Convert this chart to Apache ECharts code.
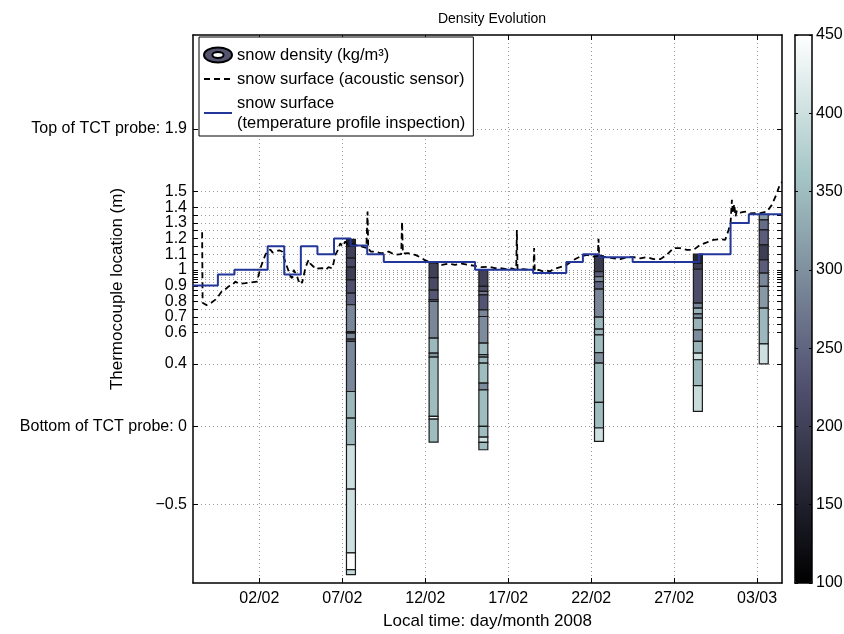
<!DOCTYPE html>
<html>
<head>
<meta charset="utf-8">
<script src="https://cdn.jsdelivr.net/npm/echarts@6/dist/echarts.min.js"></script>
<style>
html, body { margin: 0; padding: 0; background: #fff; }
#main { width: 844px; height: 634px; }
</style>
</head>
<body>
<div id="main"></div>
<script>
// x values are day numbers counted in February 2008 (2 = 02/02, 32 = 03/03)
var dateTicks = [2, 7, 12, 17, 22, 27, 32];
var heightLabels = [1.9, 1.5, 1.4, 1.3, 1.2, 1.1, 1, 0.9, 0.8, 0.7, 0.6, 0.4, 0, -0.5];
// thermocouple heights (ticks + dotted grid)
var thermocouples = [1.9, 1.5, 1.4, 1.35, 1.3, 1.25, 1.2, 1.15, 1.1, 1.05, 1.0, 0.985, 0.97, 0.955,
    0.94, 0.92, 0.895, 0.87, 0.835, 0.8, 0.75, 0.7, 0.65, 0.6, 0.4, 0, -0.5];

// snow surface from temperature profile inspection (step line)
var inspectDays = [-2, -0.5, 0.5, 2.5, 3.5, 4.5, 5.5, 6.5, 7.5, 8.5, 9.5, 15, 18.5, 20.5, 21.5, 22.5, 24.5, 28.5, 30.4, 31.5, 33.5];
var inspectHeights = [0.9, 0.97, 1.0, 1.15, 0.97, 1.15, 1.1, 1.2, 1.155, 1.1, 1.05, 1.0, 0.98, 1.05, 1.1, 1.08, 1.05, 1.1, 1.3, 1.355, 1.355];

// snow surface from acoustic sensor
var sonicDays = [-1.45, -1.42, -1.2, -0.9, -0.65, -0.45, -0.25, 0.0, 0.15, 0.35, 0.55, 0.8, 1.16, 1.5, 1.86,
    2.06, 2.2, 2.36, 2.5, 2.66, 2.8, 2.96, 3.2, 3.37, 3.5, 3.6, 3.7, 3.8, 3.87, 3.97, 4.07, 4.17, 4.27, 4.37,
    4.47, 4.57, 4.67, 4.77, 4.87, 4.97, 5.07, 5.17, 5.27, 5.37, 5.6, 5.78, 6.0, 6.17, 6.4, 6.58, 6.7, 6.88,
    7.0, 7.18, 7.3, 7.48, 7.6, 7.78, 8.0, 8.19, 8.45, 8.52, 8.56, 8.7, 8.99, 9.2, 9.39, 9.6, 9.79, 10.0,
    10.19, 10.55, 10.6, 10.65, 10.99, 11.2, 11.4, 11.6, 11.8, 12.0, 12.2, 12.6, 13.0, 13.4, 13.8, 14.2,
    14.6, 15.0, 15.4, 15.8, 16.2, 16.5, 16.9, 17.2, 17.48, 17.52, 17.56, 17.9, 18.3, 18.52, 18.56, 18.6,
    18.83, 19.1, 19.33, 19.5, 19.73, 20.13, 20.53, 20.94, 21.34, 21.74, 22.14, 22.4, 22.44, 22.48, 22.74,
    23.05, 23.35, 23.75, 24.15, 24.55, 24.95, 25.35, 25.76, 26.16, 26.56, 26.96, 27.36, 27.77, 28.17,
    28.57, 28.97, 29.37, 29.78, 30.08, 30.28, 30.4, 30.48, 30.55, 30.62, 30.7, 30.78, 30.98, 31.2, 31.38,
    31.6, 31.79, 32.19, 32.59, 32.89, 33.19, 33.39, 33.5];
var sonicHeights = [1.24, 0.79, 0.775, 0.79, 0.81, 0.835, 0.865, 0.88, 0.895, 0.9, 0.925, 0.91, 0.915, 0.92, 0.925,
    1.01, 1.05, 1.096, 1.12, 1.13, 1.11, 1.117, 1.125, 1.117, 1.07, 1.064, 1.01, 1.011, 0.96, 0.947, 1.0, 1.011, 0.96, 0.926,
    0.94, 0.915, 0.96, 1.011, 1.04, 1.064, 1.04, 1.043, 1.02, 1.004, 1.01, 1.011, 1.0, 1.017, 1.01, 1.096, 1.12, 1.17,
    1.15, 1.181, 1.165, 1.17, 1.16, 1.159, 1.15, 1.149, 1.14, 1.372, 1.14, 1.117, 1.117, 1.11, 1.106, 1.11, 1.117, 1.105,
    1.096, 1.1, 1.308, 1.105, 1.106, 1.1, 1.096, 1.085, 1.074, 1.06, 1.053, 1.05, 1.032, 1.04, 1.032, 1.04,
    1.032, 1.025, 1.017, 1.02, 1.011, 1.011, 1.004, 1.01, 1.0, 1.255, 1.0, 1.004, 1.0, 1.0, 1.139, 0.99,
    1.0, 0.99, 0.996, 0.99, 1.004, 1.017, 1.032, 1.064, 1.085, 1.096, 1.085, 1.09, 1.198, 1.09, 1.085,
    1.08, 1.074, 1.068, 1.081, 1.081, 1.074, 1.081, 1.068, 1.068, 1.096, 1.139, 1.139, 1.128, 1.128,
    1.16, 1.175, 1.192, 1.196, 1.192, 1.255, 1.3, 1.447, 1.36, 1.42, 1.34, 1.38, 1.366, 1.37, 1.372,
    1.36, 1.362, 1.362, 1.372, 1.415, 1.489, 1.553, 1.56];

// snow pits: day, layer boundaries (top -> bottom, m) and layer densities (kg/m3)
var pitDays = [7.52, 12.5, 15.5, 22.47, 28.43, 32.4];
var pitBounds = [
    [1.195, 1.15, 1.075, 1.017, 0.936, 0.851, 0.777, 0.606, 0.596, 0.558, 0.543, 0.223, 0.053, -0.117, -0.40, -0.808, -0.915, -0.947],
    [1.043, 0.95, 0.87, 0.81, 0.798, 0.564, 0.468, 0.443, 0.064, 0.047, -0.1],
    [1.0, 0.894, 0.862, 0.84, 0.745, 0.702, 0.532, 0.458, 0.443, 0.404, 0.277, 0.234, 0.0, -0.068, -0.102, -0.149],
    [1.09, 0.989, 0.957, 0.925, 0.877, 0.698, 0.622, 0.585, 0.472, 0.404, 0.153, -0.01, -0.095],
    [1.10, 1.042, 1.004, 0.787, 0.755, 0.719, 0.692, 0.617, 0.543, 0.468, 0.426, 0.26, 0.096],
    [1.355, 1.319, 1.255, 1.16, 1.064, 0.979, 0.894, 0.755, 0.527, 0.4]
];
var pitDensity = [
    [150, 200, 215, 195, 225, 245, 290, 200, 290, 250, 290, 345, 345, 400, 400, 445, 390],
    [200, 215, 235, 230, 290, 345, 305, 350, 440, 350],
    [200, 220, 270, 230, 290, 295, 345, 320, 345, 350, 295, 350, 350, 405, 350],
    [190, 240, 290, 250, 290, 345, 340, 350, 300, 350, 350, 400],
    [160, 195, 220, 290, 340, 300, 340, 295, 340, 400, 345, 395],
    [310, 260, 240, 195, 240, 290, 310, 345, 400]
];

var boneColors = ['#000000', '#1c1c27', '#38384d', '#545474', '#707a8f', '#8ba1ab', '#a7c7c7', '#d3e3e3', '#ffffff'];

var layers = [];
pitDays.forEach(function (day, i) {
    pitDensity[i].forEach(function (rho, j) {
        layers.push([day, pitBounds[i][j + 1], pitBounds[i][j], rho]);
    });
});
var inspectData = inspectDays.map(function (d, i) { return [d, inspectHeights[i]]; });
var sonicData = sonicDays.map(function (d, i) { return [d, sonicHeights[i]]; });

var font = 'Liberation Sans, Arial, Helvetica, sans-serif';
var densName = 'snow density (kg/m\u00b3)';
var sonicName = 'snow surface (acoustic sensor)';
var inspectName = 'snow surface\n(temperature profile inspection)';
var frame = { onZero: false, lineStyle: { color: '#000', width: 1.5 } };

function dayLabel(v) {
    var d = Math.round(v), m = '02';
    if (d > 29) { d -= 29; m = '03'; }
    return (d < 10 ? '0' : '') + d + '/' + m;
}
function heightLabel(v) {
    v = +v.toFixed(3);
    if (v === 1.9) return 'Top of TCT probe: 1.9';
    if (v === 0) return 'Bottom of TCT probe: 0';
    if (v < 0) return '\u2212' + (-v);
    return String(v);
}
function renderLayer(params, api) {
    var day = api.value(0);
    var a = api.coord([day - 0.27, api.value(2)]);
    var b = api.coord([day + 0.27, api.value(1)]);
    return {
        type: 'rect',
        shape: { x: a[0], y: a[1], width: b[0] - a[0], height: b[1] - a[1] },
        style: { fill: api.visual('color'), stroke: '#1a1a1a', lineWidth: 1.2 }
    };
}

var myChart = echarts.init(document.getElementById('main'));
var option = {
    animation: false,
    backgroundColor: '#fff',
    textStyle: { fontFamily: font, color: '#000' },
    title: {
        text: 'Density Evolution',
        left: 487,
        top: 7,
        textAlign: 'center',
        textStyle: { fontFamily: font, fontSize: 14, fontWeight: 'normal', color: '#000' }
    },
    grid: [
        { left: 193, top: 35, width: 589, height: 548, outerBoundsMode: 'none' },
        { left: 795, top: 35, width: 17, height: 548, outerBoundsMode: 'none' }
    ],
    legend: {
        orient: 'vertical',
        left: 199,
        top: 37,
        padding: [8, 8, 3, 4],
        itemGap: 4,
        itemWidth: 28,
        itemHeight: 16,
        backgroundColor: '#fff',
        borderColor: '#000',
        borderWidth: 1,
        textStyle: { fontFamily: font, fontSize: 16.5, lineHeight: 20, color: '#000' },
        data: [
            {
                name: densName,
                icon: 'path://M0,8A15,8,0,1,0,30,8A15,8,0,1,0,0,8ZM9,8A6,3.2,0,1,1,21,8A6,3.2,0,1,1,9,8Z',
                itemStyle: { color: '#55556f', borderColor: '#000', borderWidth: 2 }
            },
            { name: sonicName, itemStyle: { opacity: 0 } },
            { name: inspectName, itemStyle: { opacity: 0 } }
        ]
    },
    visualMap: {
        type: 'continuous',
        seriesIndex: 0,
        dimension: 3,
        min: 100,
        max: 450,
        left: 795,
        top: 35,
        padding: 0,
        itemWidth: 17,
        itemHeight: 548,
        calculable: false,
        hoverLink: false,
        inRange: { color: boneColors }
    },
    xAxis: [
        {
            type: 'value', gridIndex: 0, position: 'bottom', min: -2, max: 33.5,
            name: 'Local time: day/month 2008', nameLocation: 'middle', nameGap: 30, nameMoveOverlap: false,
            nameTextStyle: { fontFamily: font, fontSize: 17, color: '#000' },
            axisLine: frame,
            axisTick: { inside: true, length: 5, customValues: dateTicks, lineStyle: { color: '#000' } },
            axisLabel: { customValues: dateTicks, formatter: dayLabel, margin: 8, fontFamily: font, fontSize: 16, color: '#000' },
            splitLine: { show: true, lineStyle: { color: '#9a9a9a', type: [1, 3], width: 1 } }
        },
        {
            type: 'value', gridIndex: 0, position: 'top', min: -2, max: 33.5,
            axisLine: frame,
            axisTick: { inside: true, length: 5, customValues: dateTicks, lineStyle: { color: '#000' } },
            axisLabel: { show: false },
            splitLine: { show: false }
        },
        {
            type: 'value', gridIndex: 1, position: 'bottom', min: 0, max: 1, z: 10,
            axisLine: frame,
            axisTick: { show: false }, axisLabel: { show: false }, splitLine: { show: false }
        },
        {
            type: 'value', gridIndex: 1, position: 'top', min: 0, max: 1, z: 10,
            axisLine: frame,
            axisTick: { show: false }, axisLabel: { show: false }, splitLine: { show: false }
        }
    ],
    yAxis: [
        {
            type: 'value', gridIndex: 0, position: 'left', min: -1, max: 2.5,
            name: 'Thermocouple location (m)', nameLocation: 'middle', nameGap: 67, nameMoveOverlap: false,
            nameTextStyle: { fontFamily: font, fontSize: 17, color: '#000', padding: [0, 0, 0, 40] },
            axisLine: frame,
            axisTick: { inside: true, length: 5, customValues: thermocouples, lineStyle: { color: '#000' } },
            axisLabel: { customValues: heightLabels, formatter: heightLabel, margin: 6, fontFamily: font, fontSize: 16, color: '#000' },
            splitLine: { show: true, lineStyle: { color: '#9a9a9a', type: [1, 3], width: 1 } }
        },
        {
            type: 'value', gridIndex: 0, position: 'right', min: -1, max: 2.5,
            axisLine: frame,
            axisTick: { inside: true, length: 5, customValues: thermocouples, lineStyle: { color: '#000' } },
            axisLabel: { show: false },
            splitLine: { show: false }
        },
        {
            type: 'value', gridIndex: 1, position: 'right', min: 100, max: 450, interval: 50, z: 10,
            axisLine: frame,
            axisTick: { inside: true, length: 3, lineStyle: { color: '#000' } },
            axisLabel: { margin: 4, fontFamily: font, fontSize: 16, color: '#000' },
            splitLine: { show: false }
        },
        {
            type: 'value', gridIndex: 1, position: 'left', min: 100, max: 450, interval: 50, z: 10,
            axisLine: frame,
            axisTick: { inside: true, length: 3, lineStyle: { color: '#000' } },
            axisLabel: { show: false },
            splitLine: { show: false }
        }
    ],
    series: [
        {
            name: densName,
            type: 'custom',
            xAxisIndex: 0,
            yAxisIndex: 0,
            renderItem: renderLayer,
            dimensions: ['day', 'bottom', 'top', 'density'],
            encode: { x: 0, y: [1, 2] },
            data: layers,
            z: 1
        },
        {
            name: sonicName,
            type: 'line',
            xAxisIndex: 0,
            yAxisIndex: 0,
            data: sonicData,
            symbol: 'none',
            lineStyle: { color: '#000', width: 1.8, type: [6, 4] },
            itemStyle: { color: '#000' },
            z: 3
        },
        {
            name: inspectName,
            type: 'line',
            xAxisIndex: 0,
            yAxisIndex: 0,
            step: 'end',
            data: inspectData,
            symbol: 'none',
            lineStyle: { color: '#23369a', width: 2 },
            itemStyle: { color: '#23369a' },
            z: 4
        }
    ]
};
myChart.setOption(option);
</script>
</body>
</html>
